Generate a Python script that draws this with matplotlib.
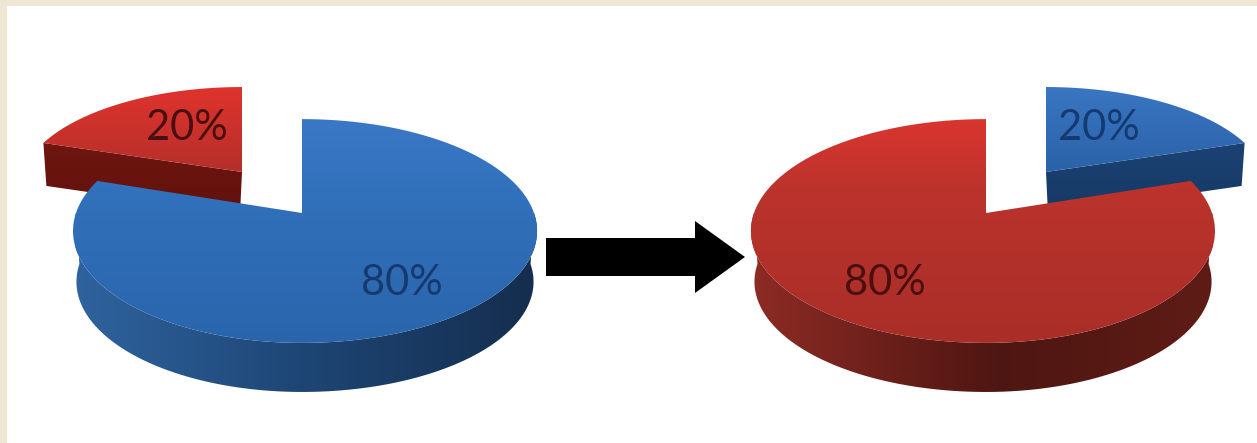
import numpy as np
import matplotlib
matplotlib.use("Agg")
import matplotlib.pyplot as plt
from matplotlib.colors import to_rgb
from matplotlib.patches import FancyArrow, Polygon

# share of each slice, in percent
left_labels = ["80%", "20%"]
left_shares = [80, 20]
right_labels = ["80%", "20%"]
right_shares = [80, 20]

BG = "#efe6d3"
W, H = 1257, 443

# gradients: (pixel position, colour)
BLUE_TOP = [(119, "#3a78c6"), (200, "#3170ba"), (343, "#2a65ac")]
BLUE_SIDE = [(75, "#2f639e"), (300, "#1e4675"), (538, "#152d4e")]
BLUE_SLICE_TOP = [(87, "#3a76c2"), (172, "#2b62a8")]
BLUE_SLICE_SIDE = [(140, "#1b4375"), (230, "#163660")]
RED_TOP = [(119, "#da352f"), (190, "#bb332c"), (343, "#a92e28")]
RED_SIDE = [(750, "#8e2b25"), (1000, "#4e1612"), (1213, "#5f1c16")]
RED_SLICE_TOP = [(87, "#e0332d"), (172, "#b52f2a")]
RED_SLICE_SIDE = [(140, "#701610"), (230, "#5e100c")]


def project(angle, cx, cy, flip, sx=1.0, sy=1.0):
    # clock angle in degrees -> pixel, with a little perspective
    t = np.radians(angle)
    x = np.sin(t)
    y = np.cos(t)
    w = 1 + 0.161 * y
    r = np.where(x > 0, 232, 226)
    return cx + flip * sx * r * x / w, cy - sy * 109 * y / w


def gradient_fill(ax, pts, stops, axis, z):
    pts = np.asarray(pts)
    pos = [s[0] for s in stops]
    cols = np.array([to_rgb(s[1]) for s in stops])
    grid = np.linspace(pos[0], pos[-1], 256)
    ramp = np.stack([np.interp(grid, pos, cols[:, i]) for i in range(3)], axis=1)
    patch = Polygon(pts, closed=True, fc="none", ec="none", transform=ax.transData)
    ax.add_patch(patch)
    lo = pts.min(axis=0)
    hi = pts.max(axis=0)
    if axis == "y":
        img = ramp[:, None, :]
        extent = (lo[0] - 2, hi[0] + 2, pos[-1], pos[0])
    else:
        img = ramp[None, :, :]
        extent = (pos[0], pos[-1], hi[1] + 2, lo[1] - 2)
    im = ax.imshow(img, extent=extent, aspect="auto", zorder=z, interpolation="bilinear")
    im.set_clip_path(patch)


def big_slice(ax, share, cx, cy, flip, top, side, z):
    end = share * 3.6
    # front wall of the cylinder
    a = np.linspace(90, 270, 120)
    x0, y0 = project(a, cx, cy, flip)
    x1, y1 = project(a, cx, cy + 51, flip, 0.985, 0.985)
    wall = np.vstack([np.c_[x0, y0], np.c_[x1, y1][::-1]])
    gradient_fill(ax, wall, side, "x", z)
    a = np.linspace(0, end, 200)
    x0, y0 = project(a, cx, cy, flip)
    face = np.vstack([[[cx, cy]], np.c_[x0, y0]])
    gradient_fill(ax, face, top, "y", z + 1)


def small_slice(ax, share, start, cx, cy, flip, top, side, z):
    a = np.linspace(start, start + share * 3.6, 60)
    x0, y0 = project(a, cx, cy, flip, 0.97, 0.905)
    # cut wall, from the rim corner to the apex
    wall = [(x0[0], y0[0]), (cx, cy), (cx - flip * 2, cy + 42), (x0[0] + flip * 3, y0[0] + 43)]
    gradient_fill(ax, wall, side, "y", z)
    face = np.vstack([[[cx, cy]], np.c_[x0, y0]])
    gradient_fill(ax, face, top, "y", z + 1)


fig = plt.figure(figsize=(W / 100, H / 100), dpi=100, facecolor=BG)
ax = fig.add_axes([0, 0, 1, 1])
ax.set_facecolor(BG)
ax.axis("off")

# white panel
ax.add_patch(Polygon([(7, 6), (W, 6), (W, H), (7, H)], closed=True, fc="white", ec="none", zorder=0))

small_slice(ax, left_shares[1], left_shares[0] * 3.6, 242, 172, 1, RED_SLICE_TOP, RED_SLICE_SIDE, 1)
big_slice(ax, left_shares[0], 302, 213, 1, BLUE_TOP, BLUE_SIDE, 3)

small_slice(ax, right_shares[1], right_shares[0] * 3.6, 1046, 172, -1, BLUE_SLICE_TOP, BLUE_SLICE_SIDE, 1)
big_slice(ax, right_shares[0], 986, 213, -1, RED_TOP, RED_SIDE, 3)

ax.add_patch(FancyArrow(546, 257, 199, 0, width=38, head_width=72, head_length=50,
                        length_includes_head=True, fc="black", ec="none", zorder=6))

font = dict(family="Lato", fontsize=30, ha="center", va="center", zorder=7)
ax.text(402, 283, left_labels[0], color="#163a70", **font)
ax.text(187, 128, left_labels[1], color="#4a0f10", **font)
ax.text(885, 283, right_labels[0], color="#4a0f10", **font)
ax.text(1099, 128, right_labels[1], color="#143a72", **font)

ax.set_xlim(0, W)
ax.set_ylim(H, 0)
fig.savefig("out.png", dpi=100, facecolor=BG)
